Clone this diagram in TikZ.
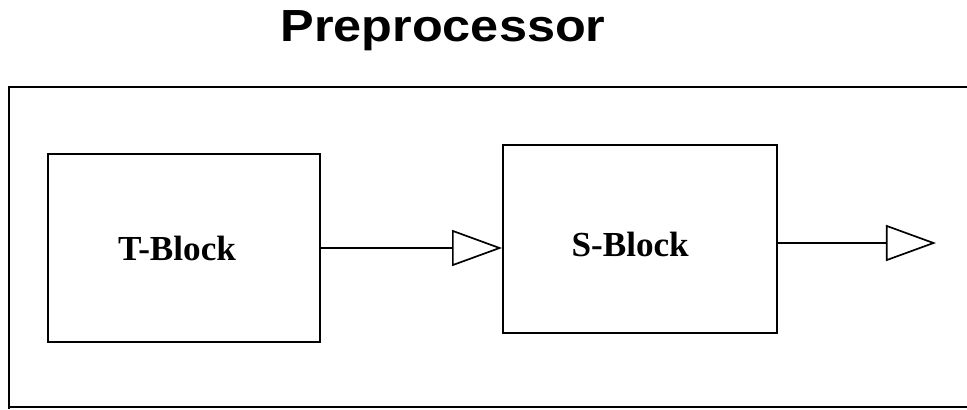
\documentclass[tikz,border=0pt]{standalone}
\usepackage{fontspec}
\setmainfont{Liberation Serif}
\newfontfamily\titlefont{Liberation Sans}
\usetikzlibrary{positioning}
\usetikzlibrary{arrows.meta}
\usetikzlibrary{calc}

\tikzset{
  blockbox/.style={draw, line width=1.3pt, minimum width=6.8cm, minimum height=4.7cm,
                   font=\fontsize{25}{29}\selectfont\bfseries, inner sep=0pt},
  flow/.style={line width=1.3pt, -{Triangle[open, length=1.25cm, width=0.9cm, line width=1.2pt]}}
}

\begin{document}
\begin{tikzpicture}[x=0.025cm, y=-0.025cm]

%---------------------------------------
% Canvas
%---------------------------------------
\useasboundingbox (0,0) rectangle (967,409);

% Title
\node[font=\titlefont\fontsize{32}{36}\selectfont\bfseries, xscale=1.12, anchor=base] (title) at (443,41) {Preprocessor};

% Outer frame (open on the right)
\draw[line width=1.3pt] (967,87) -- (9,87) -- (9,409);
\draw[line width=1.3pt] (9,407) -- (967,407);

%---------------------------------------
% Blocks
%---------------------------------------
\node[blockbox] (tblock) at (184,248) {\hspace*{-10pt}T-Block};
\node[blockbox, minimum width=6.85cm, text height=25pt, text depth=0pt] (sblock) at (640,239) {\hspace*{-14pt}S-Block};

% Connectors
\draw[flow] (tblock.east) -- (tblock.east -| sblock.west);
\coordinate (out) at (936,243);
\draw[flow] (sblock.east |- out) -- (out);

\end{tikzpicture}
\end{document}
